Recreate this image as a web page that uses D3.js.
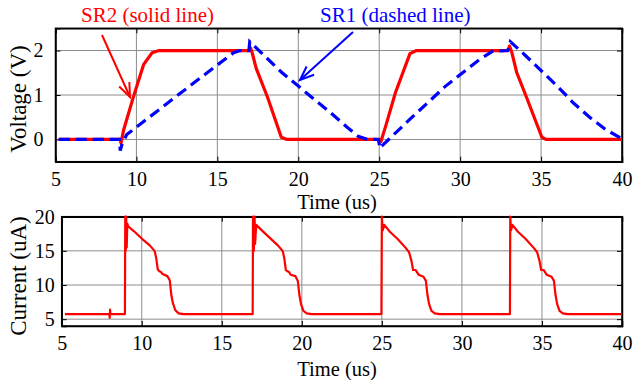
<!DOCTYPE html>
<html>
<head>
<meta charset="utf-8">
<script src="https://cdn.jsdelivr.net/npm/d3@7"></script>
<style>
  body { margin: 0; background: #fff; }
  svg text { font-family: "Liberation Serif", "Times New Roman", serif; }
</style>
</head>
<body>
<div class="chart"></div>
<script>
// x ticks shared by both panels
const timeTicks = [5, 10, 15, 20, 25, 30, 35, 40];
const voltTicks = [0, 1, 2];
const currTicks = [5, 10, 15, 20];

// SR2 voltage, solid red  [time us, volts]
const sr2 = [[5.2,0],[9.0,0],[9.05,-0.08],[9.2,0.2],[9.8,0.94],[10.45,1.69],[10.97,1.95],[11.4,2.0],
  [16.9,2.0],[17.05,2.06],[17.15,1.95],[17.4,1.6],[18.1,0.95],[18.95,0.05],[19.3,0],
  [25.0,0],[25.1,-0.05],[25.4,0.3],[26.0,1.05],[26.9,1.93],[27.3,2.0],
  [32.95,2.0],[33.05,2.1],[33.2,1.95],[33.5,1.5],[34.1,0.95],[35.05,0.05],[35.3,0],[40,0]];

// SR1 voltage, dashed blue
const sr1 = [[5.2,0],[8.95,0],[9.0,-0.25],[9.1,-0.12],[9.4,0.11],[12.5,0.98],[14.8,1.62],[16.0,1.95],[16.4,2.0],[16.95,2.0],
  [17.0,2.2],[18,1.85],[19,1.5],[20,1.2],[21,0.9],[22,0.6],[23,0.28],[23.7,0.07],[24.2,0.01],[24.95,0],
  [25.05,-0.2],[25.15,-0.15],[27.0,0.49],[29.1,1.2],[31.2,1.8],[32.0,1.98],[32.95,2.0],
  [33.1,2.2],[34,1.9],[35,1.55],[36,1.2],[37,0.82],[38,0.5],[39,0.22],[40,0.02]];

// current, red  [time us, uA]
const current = [[5.2,5.75],[7.98,5.75],[8.0,5.2],[8.02,6.4],[8.05,5.75],
  [8.95,5.75],[8.97,20],[9.0,15],[9.03,20],[9.06,15.5],[9.1,19],[9.15,18.6],[9.5,17.9],[10.0,16.8],[10.5,15.8],[10.8,15.0],[10.9,14.0],[11.0,12.3],[11.1,12.0],[11.2,11.9],[11.3,11.6],[11.6,11.3],[11.75,10.7],[11.85,8.5],[11.95,7.3],[12.1,6.3],[12.3,5.85],[12.6,5.75],
  [16.93,5.75],[16.95,20],[17.0,15],[17.05,20],[17.08,16],[17.15,18.8],[17.5,18],[18.0,16.9],[18.5,15.8],[18.8,15.0],[18.9,14],[19.0,12.2],[19.1,12.0],[19.2,11.9],[19.3,11.5],[19.6,11.3],[19.75,10.6],[19.85,8.5],[19.95,7.2],[20.1,6.2],[20.3,5.85],[20.6,5.75],
  [24.97,5.75],[25.0,20],[25.05,18],[25.15,18.8],[25.5,17.8],[26.0,16.7],[26.5,15.4],[26.7,14.8],[26.85,13.5],[26.95,12.2],[27.1,12.2],[27.3,11.5],[27.6,11.2],[27.75,10.6],[27.85,8.5],[27.95,7.2],[28.1,6.2],[28.3,5.85],[28.6,5.75],
  [33.0,5.75],[33.02,20],[33.07,18],[33.15,18.8],[33.5,17.8],[34.0,16.7],[34.5,15.4],[34.7,14.8],[34.85,13.5],[34.95,12.2],[35.1,12.2],[35.3,11.5],[35.6,11.2],[35.75,10.6],[35.85,8.5],[35.95,7.2],[36.1,6.2],[36.3,5.85],[36.6,5.75],[40,5.75]];

const W = 633, H = 380;
const serif = '"Liberation Serif", "Times New Roman", serif';
const svg = d3.select('.chart').append('svg')
  .attr('width', W).attr('height', H);

// draws one MATLAB style box with grid, inward ticks and labels
function panel(opt) {
  const x = d3.scaleLinear().domain([5, 40]).range(opt.xr);
  const y = d3.scaleLinear().domain(opt.yd).range(opt.yr);
  const g = svg.append('g');
  const [x0, x1] = opt.xr, [y0, y1] = opt.yr; // y0 bottom, y1 top

  // grid
  g.selectAll('.vg').data(timeTicks.slice(1, -1)).enter().append('line')
    .attr('x1', d => x(d)).attr('x2', d => x(d)).attr('y1', y1).attr('y2', y0)
    .attr('stroke', '#8c8c8c').attr('stroke-width', 1);
  g.selectAll('.hg').data(opt.yt).enter().append('line')
    .attr('x1', x0).attr('x2', x1).attr('y1', d => y(d)).attr('y2', d => y(d))
    .attr('stroke', '#8c8c8c').attr('stroke-width', 1);

  // axes, ticks inward on all sides
  const tk = 5;
  g.append('g').attr('transform', `translate(0,${y0})`)
    .call(d3.axisBottom(x).tickValues(timeTicks).tickSize(-tk).tickPadding(opt.xpad).tickFormat(d3.format('d')));
  g.append('g').attr('transform', `translate(0,${y1})`)
    .call(d3.axisTop(x).tickValues(timeTicks).tickSize(-tk).tickFormat(''));
  g.append('g').attr('transform', `translate(${x0},0)`)
    .call(d3.axisLeft(y).tickValues(opt.yt).tickSize(-tk).tickPadding(opt.ypad).tickFormat(d3.format('d')));
  g.append('g').attr('transform', `translate(${x1},0)`)
    .call(d3.axisRight(y).tickValues(opt.yt).tickSize(-tk).tickFormat(''));
  g.selectAll('.domain').attr('stroke', '#000').attr('stroke-width', 1.5);
  g.selectAll('.tick line').attr('stroke', '#000');
  g.selectAll('g').attr('font-family', serif);
  g.selectAll('.tick text').attr('font-size', 20).attr('fill', '#000');

  // box
  g.append('rect').attr('x', x0).attr('y', y1).attr('width', x1 - x0).attr('height', y0 - y1)
    .attr('fill', 'none').attr('stroke', '#000').attr('stroke-width', 1.5);

  // labels
  g.append('text').attr('x', 337).attr('y', opt.xly).attr('font-family', serif)
    .attr('text-anchor', 'middle').attr('font-size', 20.5).text('Time (us)');
  g.append('text').attr('transform', `translate(${opt.ylx},${opt.yly}) rotate(-90)`)
    .attr('font-family', serif)
    .attr('text-anchor', 'middle').attr('font-size', 23).text(opt.ylabel);
  return { x, y, g };
}

const pTop = panel({ xr: [55.5, 622], yr: [161.7, 28.3], yd: [-0.5, 2.5], yt: voltTicks,
  xpad: 10.5, ypad: 12, xly: 209, ylx: 26, yly: 99, ylabel: 'Voltage (V)' });
const pBot = panel({ xr: [61.7, 622], yr: [326, 216.7], yd: [4, 20], yt: currTicks,
  xpad: 9.4, ypad: 7, xly: 376, ylx: 26, yly: 276, ylabel: 'Current (uA)' });

const lineTop = d3.line().x(d => pTop.x(d[0])).y(d => pTop.y(d[1]));
const lineBot = d3.line().x(d => pBot.x(d[0])).y(d => pBot.y(d[1]));

pTop.g.append('path').datum(sr2).attr('d', lineTop)
  .attr('fill', 'none').attr('stroke', '#ff0000').attr('stroke-width', 3.2).attr('stroke-linejoin', 'round');
pTop.g.append('path').datum(sr1).attr('d', lineTop)
  .attr('fill', 'none').attr('stroke', '#0000ff').attr('stroke-width', 3.2)
  .attr('stroke-dasharray', '11,6');

pBot.g.append('path').datum(current).attr('d', lineBot)
  .attr('fill', 'none').attr('stroke', '#ff0000').attr('stroke-width', 2.2).attr('stroke-linejoin', 'round');

// annotations
function arrow(x1, y1, x2, y2, color, w) {
  const a = Math.atan2(y2 - y1, x2 - x1), L = 15, s = 0.38;
  const p1 = [x2 - L * Math.cos(a - s), y2 - L * Math.sin(a - s)];
  const p2 = [x2 - L * Math.cos(a + s), y2 - L * Math.sin(a + s)];
  svg.append('line').attr('x1', x1).attr('y1', y1).attr('x2', x2).attr('y2', y2)
    .attr('stroke', color).attr('stroke-width', w);
  svg.append('path').attr('d', `M${p1}L${x2},${y2}L${p2}`)
    .attr('fill', 'none').attr('stroke', color).attr('stroke-width', w);
}
svg.append('text').attr('x', 81).attr('y', 22).attr('font-family', serif).attr('font-size', 21)
  .attr('fill', '#ff0000').text('SR2 (solid line)');
svg.append('text').attr('x', 320).attr('y', 22).attr('font-family', serif).attr('font-size', 21)
  .attr('fill', '#0000ff').text('SR1 (dashed line)');
arrow(102, 35, 130, 97, '#ff0000', 2);
arrow(353, 32, 300, 80, '#0000ff', 2);
</script>
</body>
</html>
